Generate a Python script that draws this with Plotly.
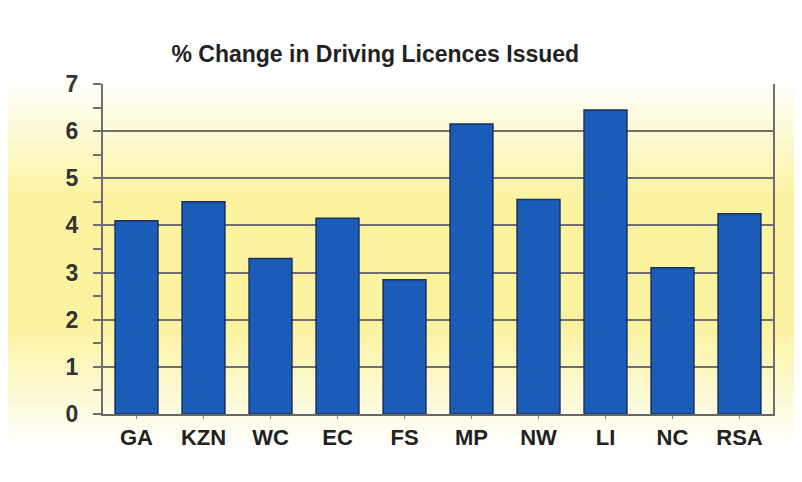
import plotly.graph_objects as go

# Provinces and % change in licences issued
provinces = ["GA", "KZN", "WC", "EC", "FS", "MP", "NW", "LI", "NC", "RSA"]
pct_change = [4.1, 4.5, 3.3, 4.15, 2.85, 6.15, 4.55, 6.45, 3.1, 4.25]

y_ticks = [0, 1, 2, 3, 4, 5, 6, 7]

W, H = 802, 482
M_L, M_R, M_T, M_B = 95, 37, 76, 76
plot_h = H - M_T - M_B

fig = go.Figure()

fig.add_trace(
    go.Bar(
        x=provinces,
        y=pct_change,
        marker=dict(color="#1b5cb8", line=dict(color="#1d2f5c", width=1.5)),
        width=0.64,
    )
)


# Background: white -> pale yellow -> white, faked with thin horizontal strips
def blend(t):
    w = (255, 255, 255)
    yl = (251, 243, 160)
    return "rgb(%d,%d,%d)" % tuple(round(w[i] + (yl[i] - w[i]) * t) for i in range(3))


def strength(py):
    if py < 70:
        return 0.0
    if py < 190:
        return (py - 70) / 120
    if py < 320:
        return 1.0
    if py < 440:
        return (440 - py) / 120
    return 0.0


step = 6
for py in range(0, H, step):
    t = strength(py + step / 2)
    fig.add_shape(
        type="rect", xref="paper", yref="paper",
        x0=-0.2, x1=1.2,
        y0=(H - M_B - (py + step + 1)) / plot_h,
        y1=(H - M_B - py) / plot_h,
        fillcolor=blend(t), line=dict(width=0), layer="below",
    )

fig.update_layout(
    width=W,
    height=H,
    margin=dict(l=M_L, r=M_R, t=M_T, b=M_B),
    paper_bgcolor="white",
    plot_bgcolor="rgba(0,0,0,0)",
    showlegend=False,
    title=dict(
        text="% Change in Driving Licences Issued",
        x=0.458,
        xanchor="center",
        y=1 - 46 / H,
        yanchor="middle",
        font=dict(family="Liberation Sans, Arial", size=23, color="#222222", weight="bold"),
    ),
    xaxis=dict(
        showgrid=False,
        showline=True,
        linecolor="#666666",
        linewidth=2,
        ticks="outside",
        tickcolor="#888888",
        ticklen=3,
        tickfont=dict(family="Liberation Sans, Arial", size=22, color="#222222", weight="bold"),
    ),
    yaxis=dict(
        range=[0, 7],
        tickvals=y_ticks,
        showgrid=True,
        gridcolor="#6f6f6f",
        gridwidth=2,
        showline=True,
        mirror=True,
        linecolor="#6f6f6f",
        linewidth=2,
        ticks="outside",
        ticklen=8,
        tickwidth=2,
        tickcolor="#6f6f6f",
        minor=dict(dtick=0.5, ticks="outside", ticklen=8, tickwidth=2, tickcolor="#6f6f6f"),
        zeroline=False,
        ticklabelstandoff=10,
        tickfont=dict(family="Liberation Sans, Arial", size=23, color="#333333", weight="bold"),
    ),
)

fig.write_html("out.html")
